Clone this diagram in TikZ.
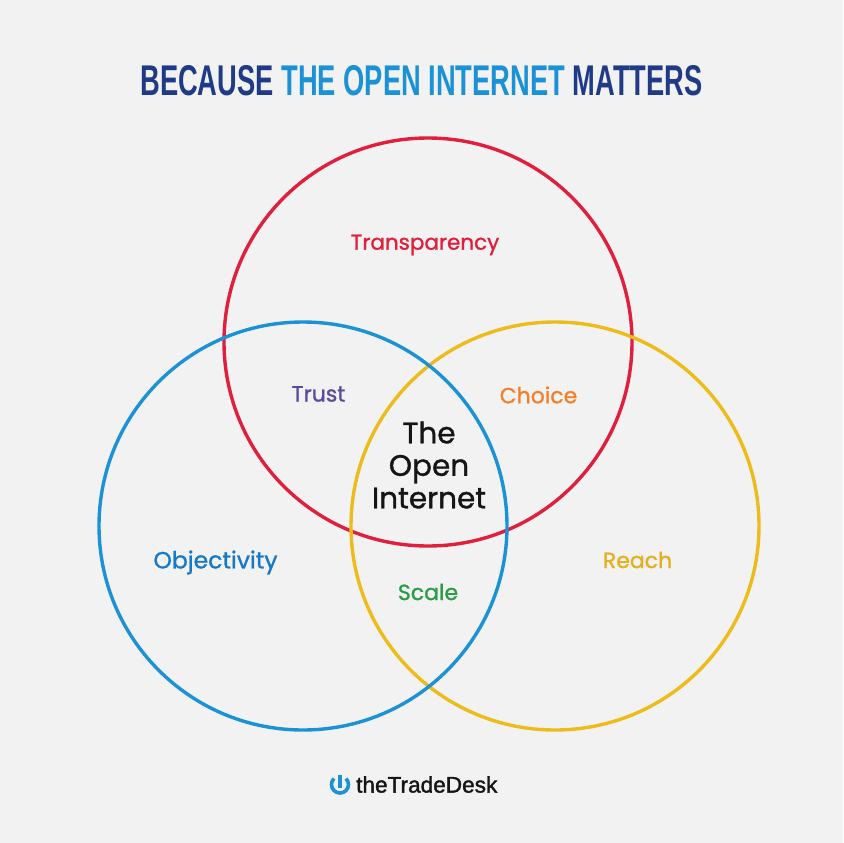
\documentclass[tikz,border=0pt]{standalone}
\usepackage{fontspec}
\usepackage{xcolor}
\usepackage{tikz}
\setmainfont[FakeBold=1.1]{Poppins}
\newfontfamily\titlefont[FakeStretch=0.635]{Liberation Sans}
\newfontfamily\logofont[FakeBold=1.6]{Liberation Sans}
\definecolor{tdbg}{HTML}{F2F2F2}
\definecolor{tdnavy}{HTML}{1F3A87}
\definecolor{tdblue}{HTML}{1B92D6}
\definecolor{tdred}{HTML}{DF1F3B}
\definecolor{tdyellow}{HTML}{EDBC1B}
\definecolor{tdazure}{HTML}{1579C9}
\definecolor{tdviolet}{HTML}{5B4A9E}
\definecolor{tdorange}{HTML}{F27F2A}
\definecolor{tdgold}{HTML}{E3B01E}
\definecolor{tdgreen}{HTML}{2A9D46}
\definecolor{tdink}{HTML}{151515}

\begin{document}
\begin{tikzpicture}[x=1pt, y=-1pt,
  ring/.style={draw, circle, minimum size=408pt, inner sep=0pt, line width=3.4pt},
  lbl/.style={font=\fontsize{22}{24}\selectfont, inner sep=0pt}
]
\useasboundingbox (0,0) rectangle (843,843);
\fill[tdbg] (0,0) rectangle (843,843);
% ---------- title ----------
\node[inner sep=0pt, font=\titlefont\bfseries\fontsize{43}{48}\selectfont, text=tdnavy] (title) at (421.5,81) {BECAUSE \textcolor{tdblue}{THE OPEN INTERNET} MATTERS};
% ---------- circles ----------
\node[ring, draw=tdred] (cred) at (428,342) {};
\node[ring, draw=tdyellow] (cyellow) at (555,526) {};
\node[ring, draw=tdblue] (cblue) at (303,526) {};
% ---------- labels ----------
\node[lbl, text=tdred, font=\fontsize{21.5}{24}\selectfont] (ltransparency) at (425,245) {Transparency};
\node[lbl, text=tdviolet] (ltrust) at (318.5,394) {Trust};
\node[lbl, text=tdorange] (lchoice) at (538.5,395) {Choice};
\node[lbl, text=tdazure, font=\fontsize{23.5}{24}\selectfont] (lobjectivity) at (215.5,562.5) {Objectivity};
\node[lbl, text=tdgold] (lreach) at (637.5,560) {Reach};
\node[lbl, text=tdgreen] (lscale) at (428,592) {Scale};
\node[align=center, inner sep=0pt, text=tdink, font=\fontsize{29.5}{32.5}\selectfont] (lcentre) at (429,465) {The\\ Open\\ Internet};
% ---------- logo ----------
\draw[tdblue, line width=3.6pt] (346,778.5) arc[start angle=-45, end angle=225, radius=8.5];
\fill[tdblue] (338,775) rectangle (342.2,788);
\node[anchor=west, inner sep=0pt, text=tdink, font=\logofont\fontsize{22.6}{26}\selectfont] (logo) at (356,784.5) {theTradeDesk};
\end{tikzpicture}
\end{document}
